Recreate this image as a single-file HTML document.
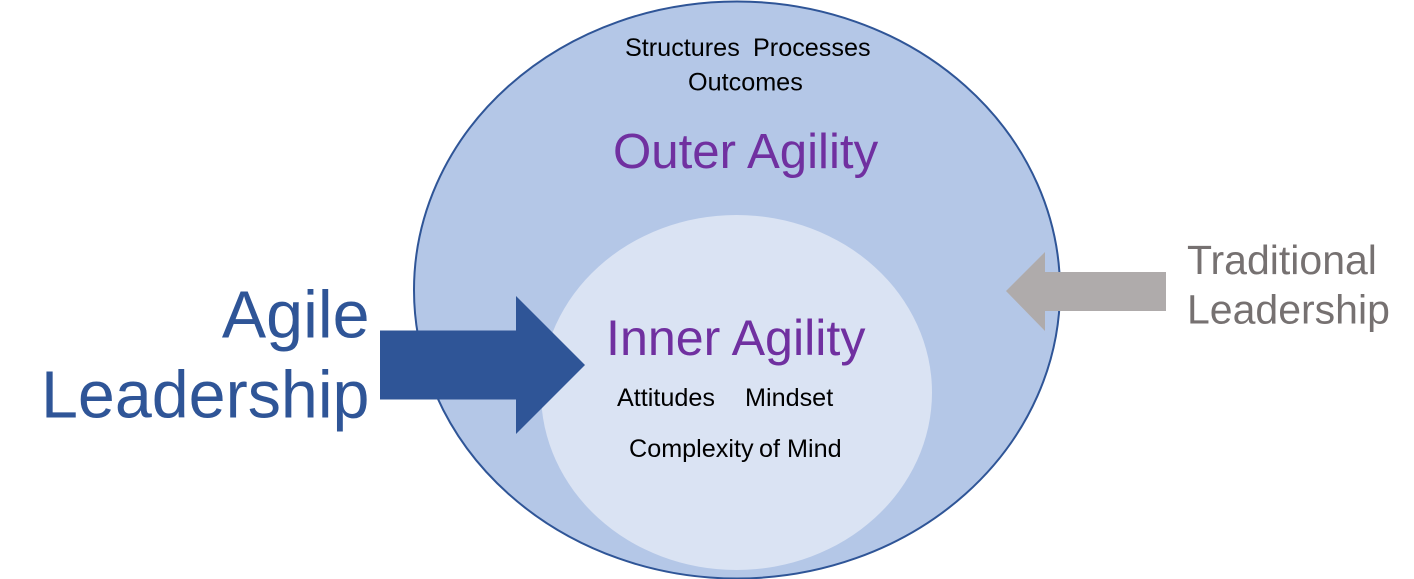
<!DOCTYPE html>
<html><head><meta charset="utf-8"><style>
html,body{margin:0;padding:0;background:#fff}
svg{display:block}
text{font-family:"Liberation Sans",Arial,sans-serif}
</style></head><body>
<svg width="1414" height="579" viewBox="0 0 1414 579" xmlns="http://www.w3.org/2000/svg">
<rect width="1414" height="579" fill="#fff"/>
<ellipse cx="737" cy="290" rx="323" ry="288.5" fill="#b4c7e7" stroke="#2f5597" stroke-width="2"/>
<ellipse cx="736.5" cy="392.5" rx="195.5" ry="177.5" fill="#dae3f3"/>
<polygon points="380,330.5 516,330.5 516,296 585,365 516,434 516,399.5 380,399.5" fill="#2f5597"/>
<polygon points="1166,272 1045,272 1045,252 1006,291 1045,331 1045,311 1166,311" fill="#afabab"/>
<g fill="#2f5597" font-size="66.4" text-anchor="end">
<text x="369.5" y="337.5">Agile</text>
<text x="369.5" y="417.5">Leadership</text>
</g>
<g fill="#767171" font-size="41">
<text x="1187" y="274">Traditional</text>
<text x="1187" y="323.5">Leadership</text>
</g>
<text x="613" y="168" font-size="49.2" fill="#7030a0">Outer Agility</text>
<text x="606" y="355" font-size="50.2" fill="#7030a0">Inner Agility</text>
<g fill="#000" font-size="25.2">
<text x="625" y="56">Structures</text>
<text x="753" y="56">Processes</text>
<text x="688" y="90.5">Outcomes</text>
<text x="617" y="406">Attitudes</text>
<text x="745" y="406">Mindset</text>
<text x="629" y="457">Complexity</text>
<text x="759" y="457">of Mind</text>
</g>
</svg>
</body></html>
